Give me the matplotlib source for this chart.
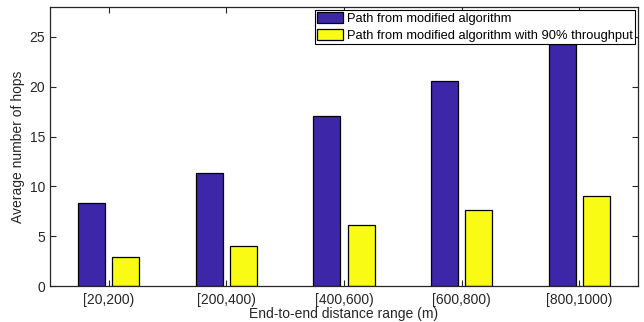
import matplotlib
matplotlib.use("Agg")
import matplotlib.pyplot as plt
import numpy as np

plt.rcParams['font.family'] = ['Liberation Sans', 'DejaVu Sans']

categories = ["[20,200)", "[200,400)", "[400,600)", "[600,800)", "[800,1000)"]
modified = [8.3, 11.3, 17.05, 20.55, 24.3]
modified_90 = [2.9, 4.0, 6.15, 7.6, 9.05]
labels = ["Path from modified algorithm", "Path from modified algorithm with 90% throughput"]

blue = "#3e26a8"
yellow = "#f9fb15"

fig = plt.figure(figsize=(6.44, 3.22), dpi=100)
ax = fig.add_axes([50/644, 36/322, 588/644, 279/322])

x = np.arange(1, len(categories) + 1)
w = 0.23
ax.bar(x - 0.145, modified, w, color=blue, edgecolor="black", linewidth=0.9, label=labels[0])
ax.bar(x + 0.145, modified_90, w, color=yellow, edgecolor="black", linewidth=0.9, label=labels[1])

ax.set_xlim(0.5, 5.5)
ax.set_ylim(0, 28)
ax.set_xticks(x)
ax.set_xticklabels(categories)
ax.set_yticks([0, 5, 10, 15, 20, 25])
ax.tick_params(direction="in", top=True, right=True, length=4, labelsize=10, colors="#262626")
ax.tick_params(axis="x", pad=5)
for s in ax.spines.values():
    s.set_color("#262626")
    s.set_linewidth(0.9)

ax.set_xlabel("End-to-end distance range (m)", fontsize=10, color="#262626")
ax.xaxis.set_label_coords(0.5, -0.077)
ax.set_ylabel("Average number of hops", fontsize=10, color="#262626")
ax.yaxis.set_label_coords(-0.043, 0.5)

leg = ax.legend(loc="upper right", fontsize=9.3, fancybox=False, framealpha=1,
                edgecolor="black", borderaxespad=0.2, handlelength=2.0,
                handleheight=0.9, handletextpad=0.3, labelspacing=0.3,
                borderpad=0.2)
leg.get_frame().set_linewidth(0.8)

fig.savefig("out.png", dpi=100)
